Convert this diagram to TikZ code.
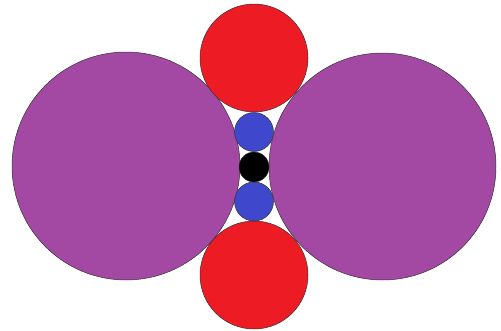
\documentclass[tikz,border=0pt]{standalone}
\definecolor{purp}{HTML}{A349A4}
\definecolor{redc}{HTML}{ED1C24}
\definecolor{bluec}{HTML}{3F48CC}
\begin{document}
\begin{tikzpicture}[x=1pt,y=-1pt,
  disc/.style={circle,draw=black!80,line width=0.5pt,inner sep=0pt,minimum size=#1}]
\useasboundingbox[fill=white] (0,0) rectangle (501,330);
\node[disc=228pt,fill=purp] (pl) at (126,166) {};
\node[disc=227pt,fill=purp] (pr) at (382.5,166.5) {};
\node[disc=108pt,fill=redc] (rt) at (254,58) {};
\node[disc=108pt,fill=redc] (rb) at (254,275) {};
\node[disc=39pt,fill=bluec] (bt) at (254,132) {};
\node[disc=39pt,fill=bluec] (bb) at (254,201.5) {};
\node[disc=30pt,fill=black] (bk) at (254,167) {};
\end{tikzpicture}
\end{document}
